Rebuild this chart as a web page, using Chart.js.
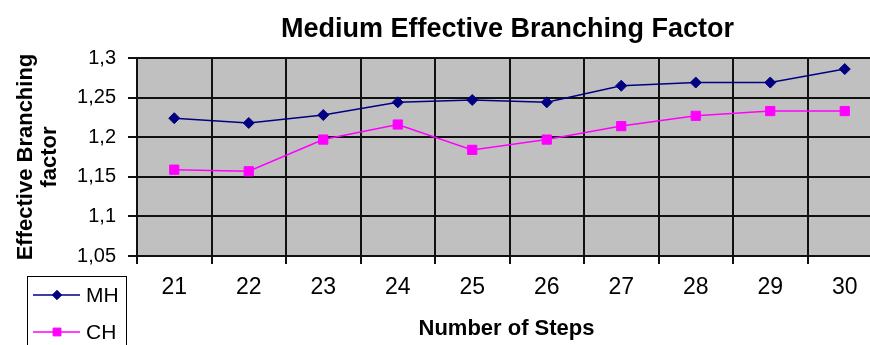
<!DOCTYPE html>
<html>
<head>
<meta charset="utf-8">
<script src="https://cdn.jsdelivr.net/npm/chart.js@4/dist/chart.umd.min.js"></script>
<style>
  html, body { margin: 0; padding: 0; background: #fff; overflow: hidden; }
  #wrap { width: 892px; height: 345px; }
</style>
</head>
<body>
<div id="wrap"><canvas id="c" width="892" height="345"></canvas></div>
<script>
// Number of search steps on the x axis
const steps = ['21', '22', '23', '24', '25', '26', '27', '28', '29', '30'];
// Effective branching factor per heuristic
const mhValues = [1.224, 1.218, 1.228, 1.244, 1.247, 1.244, 1.265, 1.269, 1.269, 1.286];
const chValues = [1.159, 1.157, 1.197, 1.216, 1.184, 1.197, 1.214, 1.227, 1.233, 1.233];
// Value axis range
const yMin = 1.05, yMax = 1.3, yStep = 0.05;

const chartTitle = 'Medium Effective Branching Factor';
const xTitle = 'Number of Steps';
const yTitleLines = ['Effective Branching', 'factor'];

const FONT = '"Liberation Sans", Arial, sans-serif';

// Grey plot background
const plotBackground = {
  id: 'plotBackground',
  beforeDraw(chart) {
    const { ctx, chartArea: a } = chart;
    ctx.save();
    ctx.fillStyle = '#c0c0c0';
    ctx.fillRect(a.left, a.top, a.right - a.left, a.bottom - a.top);
    ctx.restore();
  }
};

// Titles centred on the plot area, plus the boxed legend at the lower left
const annotations = {
  id: 'annotations',
  afterDraw(chart) {
    const { ctx, chartArea: a } = chart;
    const cx = (a.left + a.right) / 2;
    const cy = (a.top + a.bottom) / 2;
    ctx.save();
    ctx.fillStyle = '#000';
    ctx.textAlign = 'center';
    ctx.textBaseline = 'middle';

    ctx.font = 'bold 27px ' + FONT;
    ctx.fillText(chartTitle, cx - 2, 30);

    ctx.font = 'bold 22px ' + FONT;
    ctx.fillText(xTitle, cx - 3, 329);

    // rotated value-axis title, two lines
    ctx.save();
    ctx.translate(0, cy);
    ctx.rotate(-Math.PI / 2);
    ctx.textBaseline = 'alphabetic';
    ctx.font = 'bold 22px ' + FONT;
    ctx.fillText(yTitleLines[0], 0, 32);
    ctx.fillText(yTitleLines[1], 0, 56);
    ctx.restore();

    // legend box
    ctx.fillStyle = '#fff';
    ctx.fillRect(27, 276, 99, 75);
    ctx.strokeStyle = '#000';
    ctx.lineWidth = 1;
    ctx.strokeRect(27.5, 276.5, 99, 75);

    const rows = [295, 332];
    chart.data.datasets.forEach((ds, i) => {
      const y = rows[i];
      ctx.strokeStyle = ds.borderColor;
      ctx.fillStyle = ds.backgroundColor;
      ctx.lineWidth = 1.5;
      ctx.beginPath();
      ctx.moveTo(33, y);
      ctx.lineTo(80, y);
      ctx.stroke();
      ctx.lineWidth = 1;
      Chart.helpers.drawPoint(ctx, {
        pointStyle: ds.pointStyle,
        radius: ds.pointRadius * 0.85,
        borderWidth: 1
      }, 57, y);
      ctx.fillStyle = '#000';
      ctx.font = '21px ' + FONT;
      ctx.textAlign = 'left';
      ctx.textBaseline = 'middle';
      ctx.fillText(ds.label, 86, y + 1);
    });
    ctx.restore();
  }
};

const fmt = v => (Math.round(v * 100) / 100).toString().replace('.', ',');

new Chart(document.getElementById('c'), {
  type: 'line',
  data: {
    labels: steps,
    datasets: [
      {
        label: 'MH',
        data: mhValues,
        borderColor: '#000080',
        backgroundColor: '#000080',
        borderWidth: 1.5,
        pointStyle: 'rectRot',
        pointRadius: 5.5,
        pointBorderWidth: 1,
        tension: 0
      },
      {
        label: 'CH',
        data: chValues,
        borderColor: '#ff00ff',
        backgroundColor: '#ff00ff',
        borderWidth: 1.5,
        pointStyle: 'rect',
        pointRadius: 6.5,
        pointBorderWidth: 1,
        tension: 0
      }
    ]
  },
  options: {
    responsive: false,
    animation: false,
    events: [],
    layout: { padding: { left: 0, top: 58, right: 10, bottom: 0 } },
    plugins: {
      legend: { display: false },
      title: { display: false },
      tooltip: { enabled: false }
    },
    scales: {
      x: {
        type: 'category',
        offset: true,
        afterFit(s) { s.height = 89; },
        grid: {
          offset: true,
          color: '#111',
          lineWidth: 2,
          tickLength: 8,
          drawOnChartArea: true
        },
        border: { color: '#111', width: 2 },
        ticks: {
          color: '#000',
          font: { family: FONT, size: 23 },
          padding: 10,
          maxRotation: 0,
          autoSkip: false
        }
      },
      y: {
        min: yMin,
        max: yMax,
        afterFit(s) { s.width = 137; },
        afterBuildTicks(s) {
          const t = [];
          for (let i = 0; i <= Math.round((yMax - yMin) / yStep); i++) {
            t.push({ value: Math.round((yMin + i * yStep) * 100) / 100 });
          }
          s.ticks = t;
        },
        grid: {
          color: '#111',
          lineWidth: 2,
          tickLength: 9
        },
        border: { color: '#111', width: 2 },
        ticks: {
          color: '#000',
          font: { family: FONT, size: 20 },
          padding: 12,
          callback: v => fmt(v)
        }
      }
    }
  },
  plugins: [plotBackground, annotations]
});
</script>
</body>
</html>
